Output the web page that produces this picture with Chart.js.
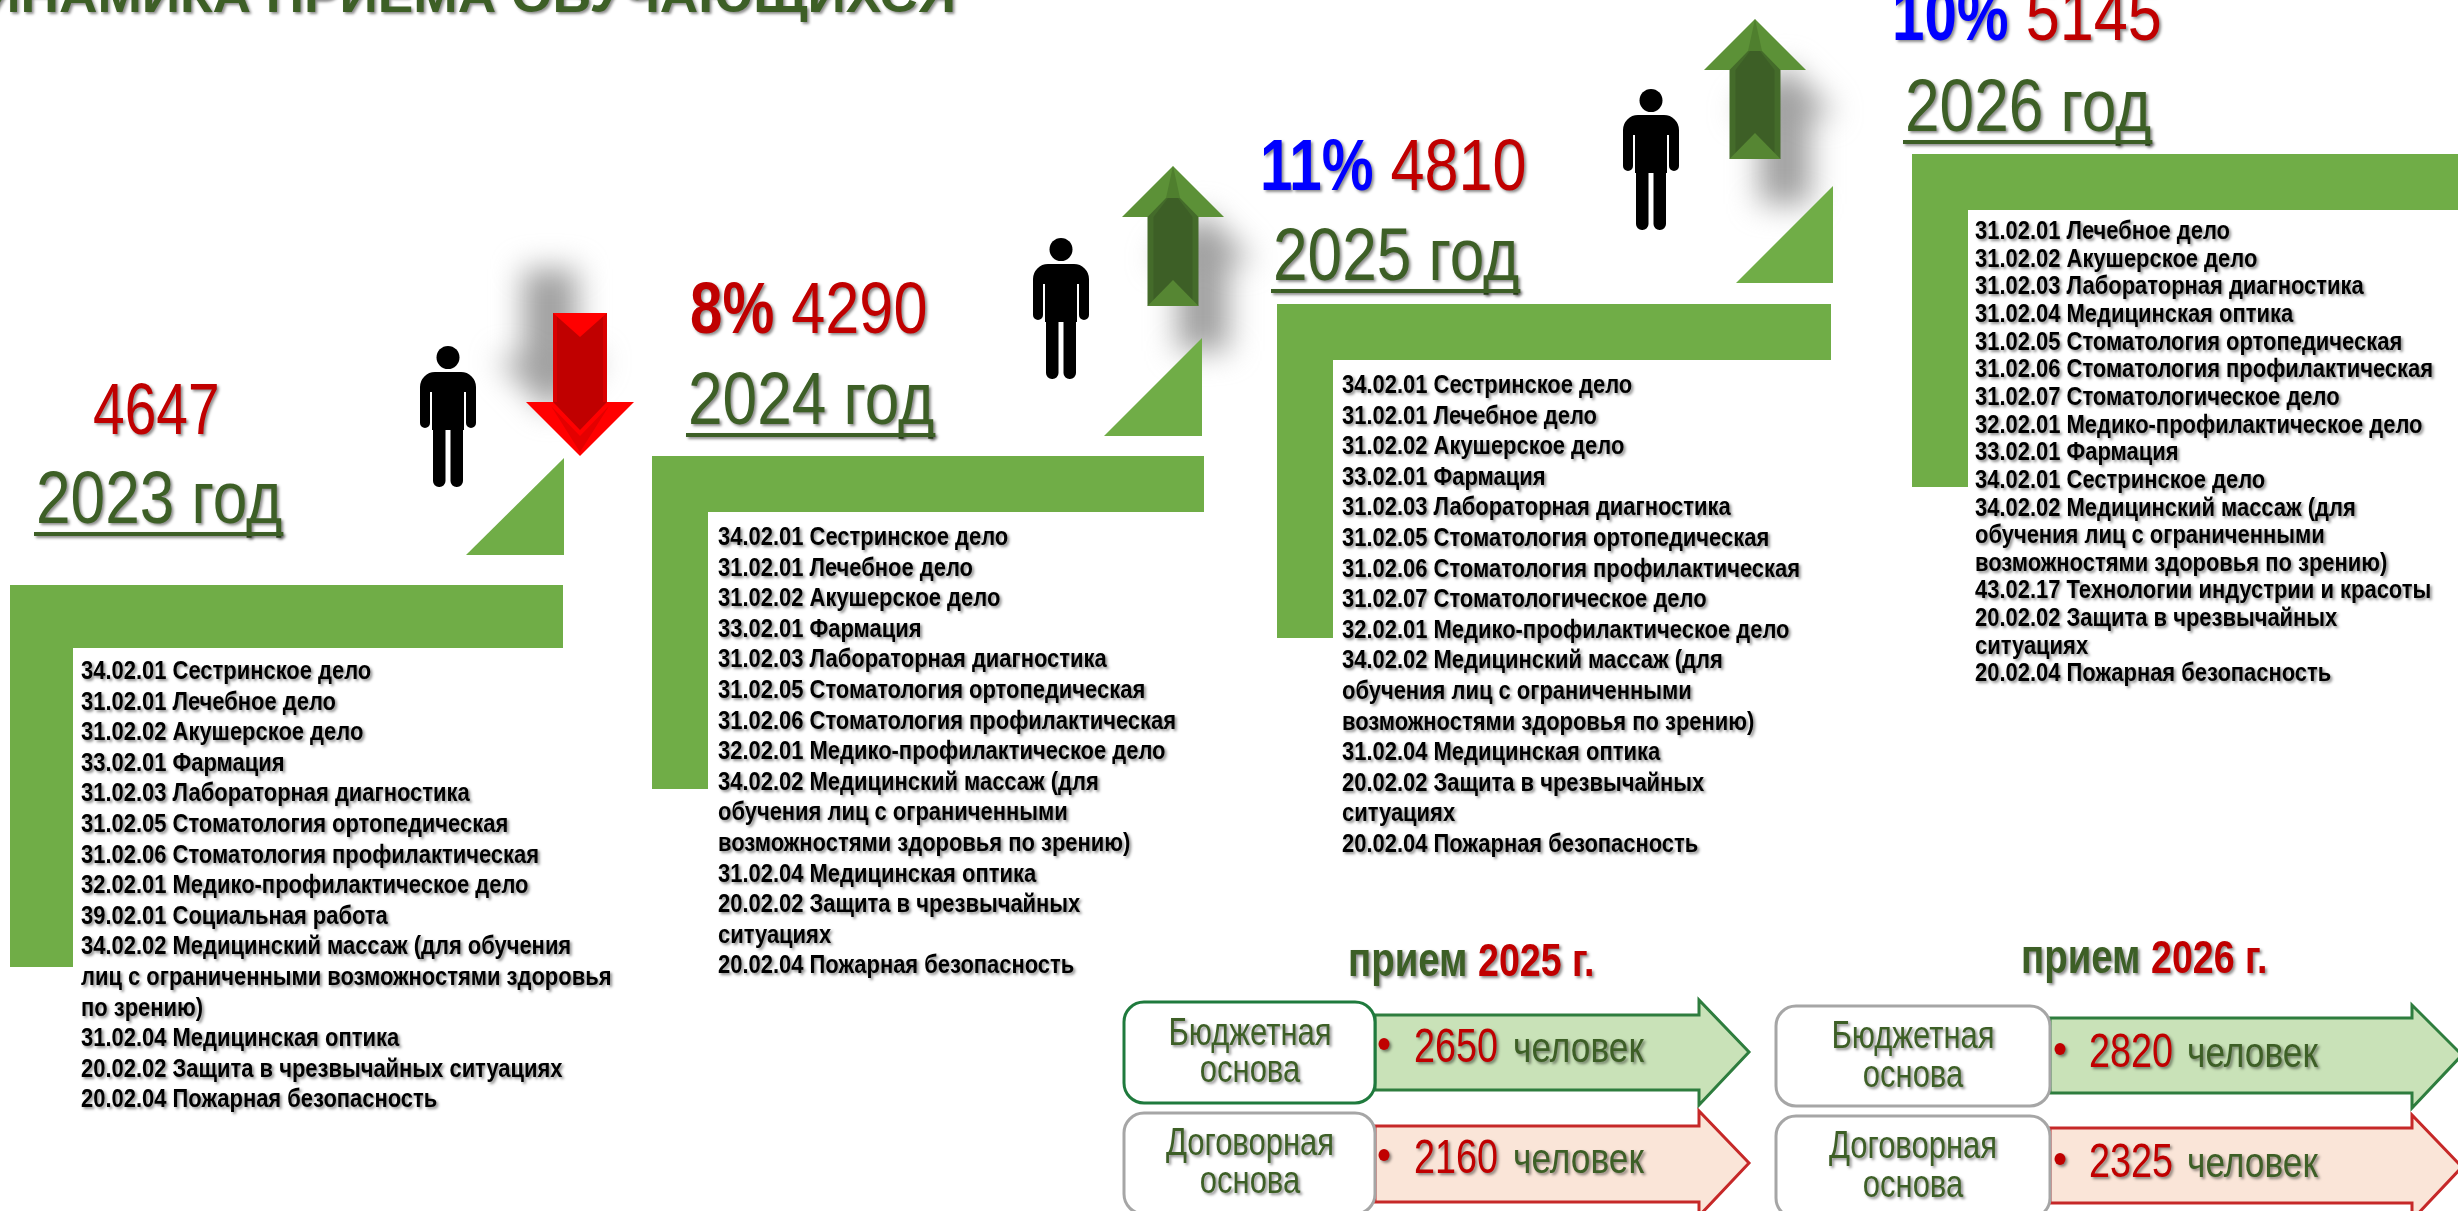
<!DOCTYPE html>
<html lang="ru">
<head>
<meta charset="utf-8">
<title>Динамика приема обучающихся</title>
<style>
  html, body { margin: 0; background: #fff; overflow: hidden; }
  canvas { display: block; }
</style>
</head>
<body>
<canvas id="grafico" width="2458" height="1211"></canvas>
<script src="https://cdn.jsdelivr.net/npm/chart.js@4"></script>
<script>
// Данные
const years = ['2023', '2024', '2025', '2026'];
const totals = [4647, 4290, 4810, 5145];
const changes = ['', '8%', '11%', '10%'];
const budgetYears = ['2025', '2026'];
const budgetPlaces = [2650, 2820];
const contractPlaces = [2160, 2325];

const list2023 = [
  '34.02.01 Сестринское дело', '31.02.01 Лечебное дело', '31.02.02 Акушерское дело',
  '33.02.01 Фармация', '31.02.03 Лабораторная диагностика', '31.02.05 Стоматология ортопедическая',
  '31.02.06 Стоматология профилактическая', '32.02.01 Медико-профилактическое дело',
  '39.02.01 Социальная работа', '34.02.02 Медицинский массаж (для обучения',
  'лиц с ограниченными возможностями здоровья', 'по зрению)', '31.02.04 Медицинская оптика',
  '20.02.02 Защита в чрезвычайных ситуациях', '20.02.04 Пожарная безопасность'
];
const list2024 = [
  '34.02.01 Сестринское дело', '31.02.01 Лечебное дело', '31.02.02 Акушерское дело',
  '33.02.01 Фармация', '31.02.03 Лабораторная диагностика', '31.02.05 Стоматология ортопедическая',
  '31.02.06 Стоматология профилактическая', '32.02.01 Медико-профилактическое дело',
  '34.02.02 Медицинский массаж (для', 'обучения лиц с ограниченными',
  'возможностями здоровья по зрению)', '31.02.04 Медицинская оптика',
  '20.02.02 Защита в чрезвычайных', 'ситуациях', '20.02.04 Пожарная безопасность'
];
const list2025 = [
  '34.02.01 Сестринское дело', '31.02.01 Лечебное дело', '31.02.02 Акушерское дело',
  '33.02.01 Фармация', '31.02.03 Лабораторная диагностика', '31.02.05 Стоматология ортопедическая',
  '31.02.06 Стоматология профилактическая', '31.02.07 Стоматологическое дело',
  '32.02.01 Медико-профилактическое дело', '34.02.02 Медицинский массаж (для',
  'обучения лиц с ограниченными', 'возможностями здоровья по зрению)', '31.02.04 Медицинская оптика',
  '20.02.02 Защита в чрезвычайных', 'ситуациях', '20.02.04 Пожарная безопасность'
];
const list2026 = [
  '31.02.01 Лечебное дело', '31.02.02 Акушерское дело', '31.02.03 Лабораторная диагностика',
  '31.02.04 Медицинская оптика', '31.02.05 Стоматология ортопедическая',
  '31.02.06 Стоматология профилактическая', '31.02.07 Стоматологическое дело',
  '32.02.01 Медико-профилактическое дело', '33.02.01 Фармация', '34.02.01 Сестринское дело',
  '34.02.02 Медицинский массаж (для', 'обучения лиц с ограниченными',
  'возможностями здоровья по зрению)', '43.02.17 Технологии индустрии и красоты',
  '20.02.02 Защита в чрезвычайных', 'ситуациях', '20.02.04 Пожарная безопасность'
];
const lists = [list2023, list2024, list2025, list2026];

// Раскладка слайда
const FONT = '"Liberation Sans"';
const GREEN = '#70ad47', DARK = '#3d5f26', RED = '#c00000', BLUE = '#0000ff';
const steps = [
  { x: 10, y: 585, right: 563, bar: 63, band: 63, bottom: 967, tri: [466, 555, 564, 458],
    totalX: 93, totalY: 434, totalSx: 0.79, yearX: 36, yearY: 523, listX: 81, listY: 679, pitch: 30.6 },
  { x: 652, y: 456, right: 1204, bar: 56, band: 56, bottom: 789, tri: [1104, 436, 1202, 338],
    totalX: 690, totalY: 333, totalSx: 0.85, yearX: 688, yearY: 424, listX: 718, listY: 545, pitch: 30.6 },
  { x: 1277, y: 304, right: 1831, bar: 56, band: 56, bottom: 638, tri: [1736, 283, 1833, 186],
    totalX: 1260, totalY: 190, totalSx: 0.85, yearX: 1273, yearY: 280, listX: 1342, listY: 393, pitch: 30.6 },
  { x: 1912, y: 154, right: 2470, bar: 56, band: 56, bottom: 487, tri: null,
    totalX: 1892, totalY: 40, totalSx: 0.85, yearX: 1905, yearY: 131, listX: 1975, listY: 239, pitch: 27.65 }
];
const people = [[420, 346], [1033, 238], [1623, 89]];
const panels = [
  { titleX: 1348, titleY: 976, boxX: 1124, boxR: 1375, tailHead: 1699, tip: 1749, cx: 1250,
    numX: 1414, wordX: 1513, bulletX: 1384, firstBorder: '#1f7a3d',
    rows: [
      { boxT: 1002, boxB: 1103, t: 1015, b: 1090, hT: 1000, hB: 1105, mid: 1052, l1: 1045, l2: 1082, num: 1062 },
      { boxT: 1113, boxB: 1214, t: 1126, b: 1202, hT: 1111, hB: 1216, mid: 1163, l1: 1155, l2: 1193, num: 1173 }
    ] },
  { titleX: 2021, titleY: 973, boxX: 1776, boxR: 2050, tailHead: 2412, tip: 2462, cx: 1913,
    numX: 2089, wordX: 2187, bulletX: 2060, firstBorder: '#a6a6a6',
    rows: [
      { boxT: 1006, boxB: 1106, t: 1018, b: 1093, hT: 1005, hB: 1108, mid: 1055, l1: 1048, l2: 1087, num: 1067 },
      { boxT: 1116, boxB: 1218, t: 1128, b: 1203, hT: 1115, hB: 1220, mid: 1167, l1: 1158, l2: 1197, num: 1177 }
    ] }
];

function txt(ctx, s, x, y, font, color, sx, align, shadow) {
  ctx.save();
  ctx.translate(x, y);
  ctx.scale(sx, 1);
  ctx.font = font;
  ctx.fillStyle = color;
  ctx.textAlign = align || 'left';
  ctx.textBaseline = 'alphabetic';
  if (shadow) {
    ctx.shadowColor = 'rgba(0,0,0,0.45)';
    ctx.shadowOffsetX = 2;
    ctx.shadowOffsetY = 2;
    ctx.shadowBlur = 3;
  }
  ctx.fillText(s, 0, 0);
  const w = ctx.measureText(s).width * sx;
  ctx.restore();
  return w;
}

function poly(ctx, pts, fill) {
  ctx.beginPath();
  pts.forEach((p, i) => i ? ctx.lineTo(p[0], p[1]) : ctx.moveTo(p[0], p[1]));
  ctx.closePath();
  ctx.fillStyle = fill;
  ctx.fill();
}

function drawPerson(ctx, x, y) {
  ctx.fillStyle = '#000';
  ctx.beginPath();
  ctx.arc(x + 28, y + 11.5, 11.5, 0, Math.PI * 2);
  ctx.fill();
  ctx.beginPath();
  ctx.roundRect(x, y + 26, 56, 20, [15, 15, 0, 0]);
  ctx.roundRect(x, y + 40, 10, 42, 5);
  ctx.roundRect(x + 46, y + 40, 10, 42, 5);
  ctx.fill();
  ctx.fillRect(x + 12, y + 44, 32, 40);
  ctx.beginPath();
  ctx.roundRect(x + 13, y + 78, 12.5, 63, [0, 0, 6, 6]);
  ctx.roundRect(x + 30.5, y + 78, 12.5, 63, [0, 0, 6, 6]);
  ctx.fill();
}

// Размытая тень стрелки: контур сдвинут на (dx, dy)
function arrowShadow(ctx, c, tip, base, end, half, head, dx, dy) {
  ctx.save();
  ctx.filter = 'blur(15px)';
  poly(ctx, [
    [c + dx, tip + dy], [c + head + dx, base + dy], [c + half + dx, base + dy], [c + half + dx, end + dy],
    [c - half + dx, end + dy], [c - half + dx, base + dy], [c - head + dx, base + dy]
  ], '#a0a0a0');
  ctx.restore();
}

function drawDownArrow(ctx) {
  const c = 580, l = 553, r = 607, top = 313, base = 402, tip = 456;
  poly(ctx, [[l, top], [r, top], [r, base], [l, base]], '#d80000');
  poly(ctx, [[l + 4, top], [r - 4, top], [r - 4, base], [l + 4, base]], RED);
  poly(ctx, [[l, top], [r, top], [c, top + 24]], '#ff0000');
  poly(ctx, [[526, base], [634, base], [c, tip]], '#ff0000');
  poly(ctx, [[l - 2, base + 4], [c, base + 34], [r + 2, base + 4], [c, base + 50]], '#e40000');
  poly(ctx, [[l, base], [r, base], [r - 4, base + 4], [c, base + 28], [l + 4, base + 4]], RED);
}

function drawUpArrow(ctx, c, tip, base, bottom) {
  const l = c - 25.5, r = c + 25.5, shoulder = base - 19;
  poly(ctx, [[c - 51, base], [c + 51, base], [c, tip]], '#5c9137');
  poly(ctx, [[c - 7, shoulder], [c + 7, shoulder], [c, tip]], '#4f7f2e');
  poly(ctx, [[l, base], [c - 7, shoulder], [c + 7, shoulder], [r, base], [r, bottom], [l, bottom]], '#446b2a');
  poly(ctx, [[l + 6, base], [c - 5, shoulder], [c + 5, shoulder], [r - 6, base], [r - 6, bottom], [l + 6, bottom]], '#3d5f26');
  poly(ctx, [[l, bottom], [r, bottom], [c, bottom - 26]], '#568633');
}

function drawRow(ctx, p, row, names, value, fill, stroke, border) {
  const pts = [
    [p.boxR, row.t], [p.tailHead, row.t], [p.tailHead, row.hT], [p.tip, row.mid],
    [p.tailHead, row.hB], [p.tailHead, row.b], [p.boxR, row.b]
  ];
  poly(ctx, pts, fill);
  ctx.strokeStyle = stroke;
  ctx.lineWidth = 3;
  ctx.stroke();
  ctx.beginPath();
  ctx.roundRect(p.boxX, row.boxT, p.boxR - p.boxX, row.boxB - row.boxT, 20);
  ctx.fillStyle = '#fff';
  ctx.fill();
  ctx.strokeStyle = border;
  ctx.stroke();
  txt(ctx, names, p.cx, row.l1, '38px ' + FONT, DARK, 0.815, 'center', true);
  txt(ctx, 'основа', p.cx, row.l2, '38px ' + FONT, DARK, 0.815, 'center', true);
  ctx.save();
  ctx.shadowColor = 'rgba(0,0,0,0.45)';
  ctx.shadowOffsetX = 2;
  ctx.shadowOffsetY = 2;
  ctx.shadowBlur = 3;
  ctx.beginPath();
  ctx.ellipse(p.bulletX, row.num - 18, 5.5, 6, 0, 0, Math.PI * 2);
  ctx.fillStyle = RED;
  ctx.fill();
  ctx.restore();
  txt(ctx, String(value), p.numX, row.num, '48px ' + FONT, RED, 0.787, 'left', true);
  txt(ctx, 'человек', p.wordX, row.num, '42px ' + FONT, DARK, 0.84, 'left', true);
}

const slidePlugin = {
  id: 'slide',
  afterDatasetsDraw(chart) {
    const ctx = chart.ctx;
    const vals = chart.data.datasets[0].data;
    const budget = chart.data.datasets[1].data;
    const contract = chart.data.datasets[2].data;

    // тени стрелок лежат под всем остальным
    arrowShadow(ctx, 580, 456, 402, 313, 27, 54, -30, -44);
    arrowShadow(ctx, 1173, 166, 217, 306, 25.5, 51, 30, 45);
    arrowShadow(ctx, 1755, 19, 70, 159, 25.5, 51, 30, 45);

    txt(ctx, 'ДИНАМИКА ПРИЕМА ОБУЧАЮЩИХСЯ', 956, 12, 'bold 50px ' + FONT, DARK, 1.065, 'right', true);

    steps.forEach((s, i) => {
      ctx.fillStyle = GREEN;
      ctx.fillRect(s.x, s.y, s.right - s.x, s.band);
      ctx.fillRect(s.x, s.y, s.bar, s.bottom - s.y);
      if (s.tri) poly(ctx, [[s.tri[0], s.tri[1]], [s.tri[2], s.tri[1]], [s.tri[2], s.tri[3]]], GREEN);

      lists[i].forEach((line, n) => {
        txt(ctx, line, s.listX, s.listY + n * s.pitch, 'bold 25px ' + FONT, '#000', 0.878, 'left', true);
      });

      let x = s.totalX;
      const colour = i === 1 ? RED : BLUE;
      if (changes[i]) {
        x += txt(ctx, changes[i], x, s.totalY, 'bold 72px ' + FONT, colour, 0.81, 'left', true);
        x += 17;
      }
      txt(ctx, String(vals[i]), x, s.totalY, '72px ' + FONT, RED, s.totalSx, 'left', true);

      const w = txt(ctx, years[i] + ' год', s.yearX, s.yearY, '74px ' + FONT, DARK, 0.84, 'left', true);
      ctx.save();
      ctx.shadowColor = 'rgba(0,0,0,0.45)';
      ctx.shadowOffsetX = 2;
      ctx.shadowOffsetY = 2;
      ctx.shadowBlur = 3;
      ctx.fillStyle = DARK;
      ctx.fillRect(s.yearX - 2, s.yearY + 9, w + 3, 4);
      ctx.restore();
    });

    people.forEach(p => drawPerson(ctx, p[0], p[1]));
    drawDownArrow(ctx);
    drawUpArrow(ctx, 1173, 166, 217, 306);
    drawUpArrow(ctx, 1755, 19, 70, 159);

    panels.forEach((p, i) => {
      txt(ctx, 'прием', p.titleX, p.titleY, 'bold 48px ' + FONT, DARK, 0.8, 'left', true);
      txt(ctx, budgetYears[i] + ' г.', p.titleX + 130, p.titleY, 'bold 47px ' + FONT, RED, 0.8, 'left', true);
      drawRow(ctx, p, p.rows[0], 'Бюджетная', budget[i + 2], '#c9e2b8', '#2e7d3e', p.firstBorder);
      drawRow(ctx, p, p.rows[1], 'Договорная', contract[i + 2], '#fae5d8', '#c62828', '#a6a6a6');
    });
  }
};

// Значения живут в наборах данных графика, столбцы прозрачные: на слайде они показаны подписями
new Chart(document.getElementById('grafico'), {
  type: 'bar',
  data: {
    labels: years,
    datasets: [
      { label: 'Прием, всего', data: totals, backgroundColor: 'transparent' },
      { label: 'Бюджетная основа', data: [null, null, ...budgetPlaces], backgroundColor: 'transparent' },
      { label: 'Договорная основа', data: [null, null, ...contractPlaces], backgroundColor: 'transparent' }
    ]
  },
  options: {
    responsive: false,
    animation: false,
    layout: { padding: 0 },
    plugins: { legend: { display: false }, title: { display: false }, tooltip: { enabled: false } },
    scales: { x: { display: false }, y: { display: false, beginAtZero: true } }
  },
  plugins: [slidePlugin]
});
</script>
</body>
</html>
